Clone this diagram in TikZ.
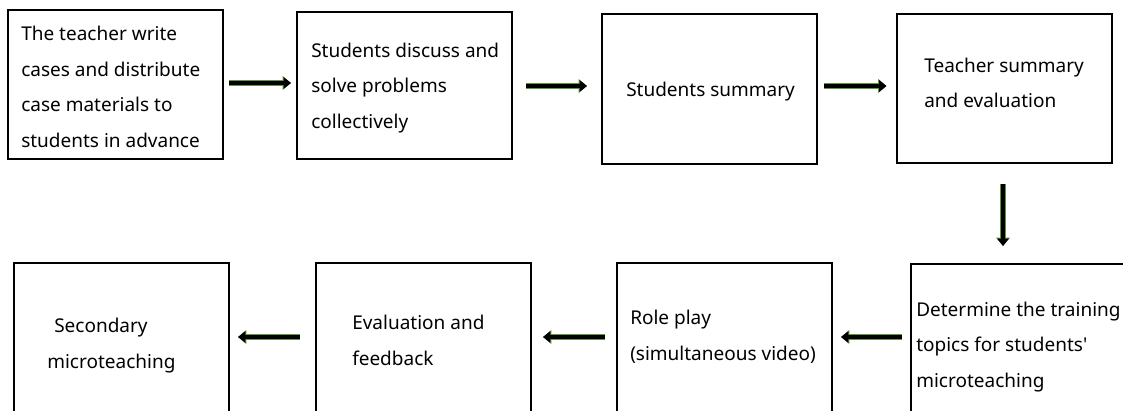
\documentclass[tikz,border=0pt]{standalone}
\usepackage{fontspec}
\setmainfont{Noto Sans}
\usetikzlibrary{arrows.meta}
\definecolor{arrowrim}{RGB}{96,150,60}
\begin{document}
\begin{tikzpicture}[x=0.75pt,y=-0.75pt,
  stepbox/.style={draw=black,line width=1.5pt,rectangle,inner sep=0pt,
    minimum width=215*0.75pt,minimum height=#1*0.75pt},
  label/.style={anchor=base west,inner sep=0pt,align=left,
    font=\fontsize{14.25pt}{26.6pt}\selectfont},
  flow/.style={line width=3pt,black,
    -{Triangle[length=5.5pt,width=8.5pt]},
    preaction={draw=arrowrim,line width=4.4pt,-{Triangle[length=6.2pt,width=10pt]}}}]
\useasboundingbox (0,0) rectangle (1123,410);
\clip (0,0) rectangle (1123,410);
% top row
\node[stepbox=149] (b1) at (115.5,84.5) {};
\node[stepbox=147] (b2) at (404.5,85.5) {};
\node[stepbox=150] (b3) at (709.5,89) {};
\node[stepbox=149] (b4) at (1004,88.5) {};
% bottom row
\node[stepbox=150] (b5) at (1018.5,339) {};
\node[stepbox=150] (b6) at (724.5,338) {};
\node[stepbox=150] (b7) at (423.5,338) {};
\node[stepbox=150] (b8) at (121.5,338) {};
% texts (anchored on the baseline of the last line)
\node[label] (t1) at (21,147) {The teacher write\\cases and distribute\\case materials to\\students in advance};
\node[label] (t2) at (311,128) {Students discuss and\\solve problems\\collectively};
\node[label] (t3) at (626,96) {Students summary};
\node[label] (t4) at (924,108) {Teacher summary\\and evaluation};
\node[label] (t5) at (916,387) {Determine the training\\topics for students\textquotesingle\\microteaching};
\node[label] (t6) at (630,360) {Role play\\(simultaneous video)};
\node[label] (t7) at (352,365) {Evaluation and\\feedback};
\node[label] (t8) at (47,368) {\hspace*{5.25pt}Secondary\\microteaching};
% connectors
\draw[flow] ([shift={(5,-1.5)}]b1.east) -- ([shift={(-5,-2.5)}]b2.west);
\draw[flow] ([shift={(13,0.5)}]b2.east) -- ([shift={(-14,-3)}]b3.west);
\draw[flow] ([shift={(6,-3)}]b3.east) -- ([shift={(-9,-2.5)}]b4.west);
\draw[flow] ([shift={(-1,20)}]b4.south) -- ([shift={(-15.5,-17)}]b5.north);
\draw[flow] ([shift={(-8,-2)}]b5.west) -- ([shift={(8,-1)}]b6.east);
\draw[flow] ([shift={(-11,-1)}]b6.west) -- ([shift={(11,-1)}]b7.east);
\draw[flow] ([shift={(-15,-1)}]b7.west) -- ([shift={(8,-1)}]b8.east);
\end{tikzpicture}
\end{document}
